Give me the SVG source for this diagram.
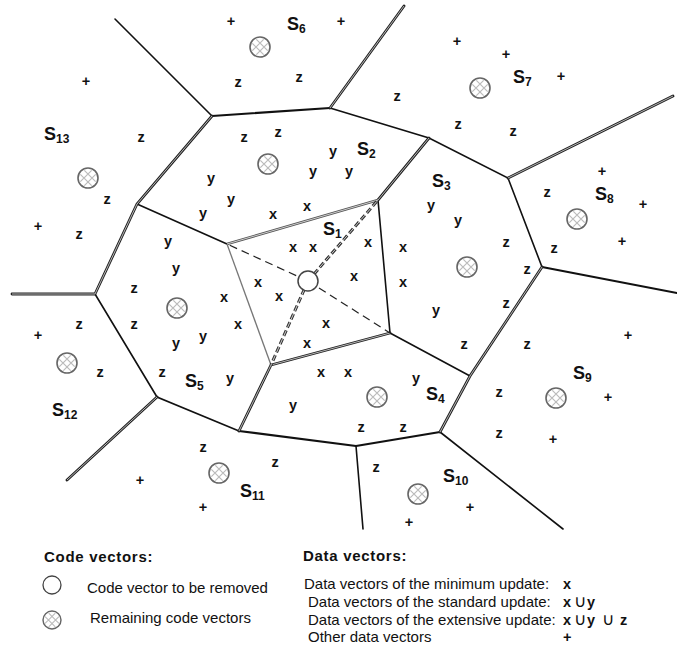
<svg xmlns="http://www.w3.org/2000/svg" xmlns:xlink="http://www.w3.org/1999/xlink" width="677" height="664" viewBox="0 0 677 664">
<style>
text{font-family:"Liberation Sans",Arial,sans-serif;fill:#111}
.p{font-size:14.5px;font-weight:bold;text-anchor:middle}
.lbl{font-size:18px;font-weight:bold}
.sub{font-size:12px}
.ln{stroke:#111;stroke-width:1.6;fill:none;stroke-linecap:round}
.th{stroke:#111;stroke-width:2.2;fill:none;stroke-linecap:round}
.dbo{stroke:#222;stroke-width:2.8;fill:none;stroke-linecap:round}
.dbi{stroke:#c8c8c8;stroke-width:0.9;fill:none}
.gl{stroke:#777;stroke-width:1.3;fill:none}
.ds{stroke:#222;stroke-width:1.2;fill:none;stroke-dasharray:8 5}
.ddo{stroke:#333;stroke-width:3;fill:none;stroke-dasharray:6 3}
.ddi{stroke:#ccc;stroke-width:1;fill:none;stroke-dasharray:6 3}
.leg{font-size:15px}
.legh{font-size:15px;font-weight:bold;letter-spacing:0.7px}
.sym{font-size:14.5px;font-weight:bold}
.un{font-size:17px;font-weight:normal}
</style>
<defs>
<g id="cv">
<circle r="10" fill="#fff" stroke="#666" stroke-width="1.6"/>
<path d="M3.67,7.67L-7.67,-3.67M7.67,3.67L-3.67,-7.67M7.67,-3.67L-3.67,7.67M3.67,-7.67L-7.67,3.67" stroke="#bbb" stroke-width="1.2" fill="none"/>
</g>
</defs>
<rect width="677" height="664" fill="#fff"/>

<g id="connectors">
<path class="ln" d="M212,116L115,19"/>
<path class="th" d="M212,116L330,108"/>
<path class="ln" d="M330,108L429,138L508,178L542,267"/>
<path class="th" d="M542,267L677,293"/>
<path class="ln" d="M440,432L563,529"/>
<path class="th" d="M440,432L356,446"/>
<path class="ln" d="M356,446L363,529"/>
<path class="th" d="M356,446L239,431"/>
<path class="ln" d="M239,431L157,397L95,294"/>
<path class="ln" d="M137,204L227,244"/>
<path class="ln" d="M390,333L470,376"/>
<path class="ln" d="M378,200L390,333"/>
<path class="gl" d="M227,244L271,365"/>
<g>
<path class="dbo" d="M212,116L137,204L95,294M330,108L404,6M508,178L673,96M542,267L470,376L440,432M157,397L67,480M95,294L12,294M429,138L378,200M271,365L239,431M271,365L390,333"/>
<path class="dbi" d="M212,116L137,204L95,294M330,108L404,6M508,178L673,96M542,267L470,376L440,432M157,397L67,480M95,294L12,294M429,138L378,200M271,365L239,431M271,365L390,333"/>
</g>
<g>
<path d="M227,244L378,200" stroke="#555" stroke-width="2.6" fill="none"/>
<path d="M227,244L378,200" stroke="#ddd" stroke-width="0.9" fill="none"/>
</g>
<path class="ds" d="M308,281L227,244M308,281L390,333"/>
<path class="ddo" d="M308,281L378,200M308,281L271,365"/>
<path class="ddi" d="M308,281L378,200M308,281L271,365"/>
</g>

<g id="S1">
<circle cx="308" cy="281" r="10" fill="#fff" stroke="#444" stroke-width="1.5"/>
<text class="lbl" x="323" y="235">S<tspan class="sub" dy="3">1</tspan></text>
<text class="p" x="293" y="252">x</text><text class="p" x="313" y="252">x</text>
<text class="p" x="368" y="247">x</text><text class="p" x="258" y="287">x</text>
<text class="p" x="354" y="281">x</text><text class="p" x="279" y="301">x</text>
<text class="p" x="326" y="328">x</text><text class="p" x="307" y="348">x</text>
</g>

<g id="S2">
<use xlink:href="#cv" x="268" y="164"/>
<text class="lbl" x="357" y="155">S<tspan class="sub" dy="3">2</tspan></text>
<text class="p" x="244" y="142">z</text><text class="p" x="278" y="137">z</text>
<text class="p" x="333" y="156">y</text><text class="p" x="313" y="176">y</text>
<text class="p" x="349" y="176">y</text><text class="p" x="211" y="183">y</text>
<text class="p" x="231" y="204">y</text><text class="p" x="203" y="218">y</text>
<text class="p" x="273" y="219">x</text><text class="p" x="307" y="211">x</text>
</g>

<g id="S3">
<use xlink:href="#cv" x="467" y="267"/>
<text class="lbl" x="432" y="187">S<tspan class="sub" dy="3">3</tspan></text>
<text class="p" x="431" y="210">y</text><text class="p" x="458" y="225">y</text>
<text class="p" x="403" y="252">x</text><text class="p" x="403" y="287">x</text>
<text class="p" x="506" y="247">z</text><text class="p" x="527" y="274">z</text>
<text class="p" x="506" y="308">z</text><text class="p" x="436" y="315">y</text>
<text class="p" x="464" y="349">z</text>
</g>

<g id="S4">
<use xlink:href="#cv" x="377" y="397"/>
<text class="lbl" x="426" y="400">S<tspan class="sub" dy="3">4</tspan></text>
<text class="p" x="321" y="377">x</text><text class="p" x="348" y="377">x</text>
<text class="p" x="293" y="410">y</text><text class="p" x="416" y="383">y</text>
<text class="p" x="361" y="432">z</text><text class="p" x="403" y="432">z</text>
</g>

<g id="S5">
<use xlink:href="#cv" x="177" y="308"/>
<text class="lbl" x="185" y="387">S<tspan class="sub" dy="3">5</tspan></text>
<text class="p" x="168" y="246">y</text><text class="p" x="176" y="273">y</text>
<text class="p" x="134" y="293">z</text><text class="p" x="224" y="302">x</text>
<text class="p" x="134" y="329">z</text><text class="p" x="238" y="329">x</text>
<text class="p" x="176" y="348">y</text><text class="p" x="203" y="341">y</text>
<text class="p" x="162" y="377">z</text><text class="p" x="230" y="383">y</text>
</g>

<g id="S6">
<use xlink:href="#cv" x="260" y="47"/>
<text class="lbl" x="287" y="30">S<tspan class="sub" dy="3">6</tspan></text>
<text class="p" x="231" y="26">+</text><text class="p" x="341" y="26">+</text>
<text class="p" x="238" y="87">z</text><text class="p" x="299" y="82">z</text>
</g>

<g id="S7">
<use xlink:href="#cv" x="480" y="88"/>
<text class="lbl" x="513" y="83">S<tspan class="sub" dy="3">7</tspan></text>
<text class="p" x="457" y="46">+</text><text class="p" x="506" y="59">+</text>
<text class="p" x="561" y="81">+</text><text class="p" x="397" y="101">z</text>
<text class="p" x="458" y="129">z</text><text class="p" x="513" y="136">z</text>
</g>

<g id="S8">
<use xlink:href="#cv" x="577" y="219"/>
<text class="lbl" x="595" y="200">S<tspan class="sub" dy="3">8</tspan></text>
<text class="p" x="602" y="176">+</text><text class="p" x="547" y="197">z</text>
<text class="p" x="643" y="209">+</text><text class="p" x="554" y="253">z</text>
<text class="p" x="622" y="246">+</text>
</g>

<g id="S9">
<use xlink:href="#cv" x="556" y="398"/>
<text class="lbl" x="573" y="379">S<tspan class="sub" dy="3">9</tspan></text>
<text class="p" x="527" y="349">z</text><text class="p" x="628" y="340">+</text>
<text class="p" x="499" y="397">z</text><text class="p" x="608" y="402">+</text>
<text class="p" x="499" y="438">z</text><text class="p" x="553" y="444">+</text>
</g>

<g id="S10">
<use xlink:href="#cv" x="418" y="494"/>
<text class="lbl" x="443" y="482">S<tspan class="sub" dy="3">10</tspan></text>
<text class="p" x="376" y="472">z</text><text class="p" x="470" y="512">+</text>
<text class="p" x="409" y="527">+</text>
</g>

<g id="S11">
<use xlink:href="#cv" x="219" y="473"/>
<text class="lbl" x="240" y="497">S<tspan class="sub" dy="3">11</tspan></text>
<text class="p" x="203" y="452">z</text><text class="p" x="275" y="467">z</text>
<text class="p" x="140" y="485">+</text><text class="p" x="203" y="512">+</text>
</g>

<g id="S12">
<use xlink:href="#cv" x="67" y="363"/>
<text class="lbl" x="52" y="416">S<tspan class="sub" dy="3">12</tspan></text>
<text class="p" x="79" y="329">z</text><text class="p" x="38" y="340">+</text>
<text class="p" x="100" y="377">z</text>
</g>

<g id="S13">
<use xlink:href="#cv" x="88" y="178"/>
<text class="lbl" x="44" y="140">S<tspan class="sub" dy="3">13</tspan></text>
<text class="p" x="86" y="86">+</text><text class="p" x="141" y="142">z</text>
<text class="p" x="107" y="204">z</text><text class="p" x="38" y="231">+</text>
<text class="p" x="79" y="239">z</text>
</g>

<g id="legend">
<text class="legh" x="44" y="562">Code vectors:</text>
<circle cx="52" cy="585" r="9" fill="#fff" stroke="#444" stroke-width="1.3"/>
<text class="leg" x="87" y="593">Code vector to be removed</text>
<use xlink:href="#cv" transform="translate(52,620) scale(0.9)"/>
<text class="leg" x="90" y="623">Remaining code vectors</text>
<text class="legh" x="303" y="561">Data vectors:</text>
<text class="leg" x="304" y="589">Data vectors of the minimum update:</text>
<text class="leg" x="308" y="607">Data vectors of the standard update:</text>
<text class="leg" x="308" y="625">Data vectors of the extensive update:</text>
<text class="leg" x="308" y="642">Other data vectors</text>
<text class="sym" x="563" y="589">x</text>
<text class="sym" y="607"><tspan x="563">x</tspan><tspan class="un" x="574">∪</tspan><tspan x="587">y</tspan></text>
<text class="sym" y="625"><tspan x="563">x</tspan><tspan class="un" x="574">∪</tspan><tspan x="587">y</tspan><tspan class="un" x="602">∪</tspan><tspan x="620">z</tspan></text>
<text class="sym" x="563" y="642">+</text>
</g>
</svg>
